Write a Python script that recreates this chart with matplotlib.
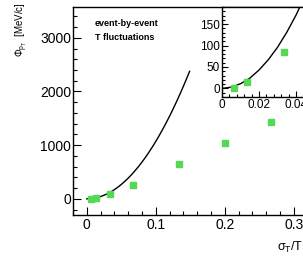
import matplotlib
matplotlib.use("Agg")
import matplotlib.pyplot as plt
from matplotlib.ticker import MultipleLocator

plt.rcParams['font.family'] = ['Liberation Sans', 'DejaVu Sans']
plt.rcParams['mathtext.fontset'] = 'custom'
plt.rcParams['mathtext.rm'] = 'Liberation Sans'
plt.rcParams['mathtext.it'] = 'Liberation Sans'

# green squares: sigma_T/T vs Phi_pT
sigma_pts = [0.0067, 0.0133, 0.0333, 0.0667, 0.1333, 0.2, 0.2667, 0.3333]
phi_pts = [2, 16, 85, 260, 650, 1045, 1435, 1830]

# black curve
curve_x = [0.0, 0.005, 0.01, 0.015, 0.02, 0.025, 0.03, 0.035, 0.04, 0.045,
           0.05, 0.055, 0.06, 0.065, 0.07, 0.075, 0.08, 0.085, 0.09, 0.095,
           0.1, 0.105, 0.11, 0.115, 0.12, 0.125, 0.13, 0.135, 0.14, 0.145, 0.149]
curve_y = [0, 3, 11, 24, 43, 67, 96, 131, 171, 217,
           268, 324, 385, 452, 525, 602, 685, 773, 867, 966,
           1070, 1180, 1295, 1415, 1540, 1672, 1808, 1950, 2097, 2250, 2376]

green = '#55d855'

fig = plt.figure(figsize=(3.03, 2.58), dpi=100)

# main panel (right part falls outside the figure, as in the reference)
ax = fig.add_axes([0.241, 0.167, 0.865, 0.806])
ax.plot(curve_x, curve_y, color='black', lw=1.0)
ax.plot(sigma_pts, phi_pts, 's', color=green, ms=4.2, mec=green)
ax.set_xlim(-0.02, 0.36)
ax.set_ylim(-300, 3575)
ax.xaxis.set_major_locator(MultipleLocator(0.1))
ax.xaxis.set_minor_locator(MultipleLocator(0.02))
ax.yaxis.set_major_locator(MultipleLocator(1000))
ax.yaxis.set_minor_locator(MultipleLocator(200))
ax.set_xticks([0, 0.1, 0.2, 0.3])
ax.set_xticklabels(['0', '0.1', '0.2', '0.3'])
ax.tick_params(which='both', direction='in', labelsize=10, width=0.8)
ax.tick_params(which='major', length=6)
ax.tick_params(which='minor', length=3)
ax.tick_params(axis='x', pad=2.5)
ax.tick_params(axis='y', pad=1.5)
for s in ax.spines.values():
    s.set_linewidth(1.0)

ax.text(95 / 303, 1 - 23 / 258, 'event-by-event', transform=fig.transFigure,
        fontsize=6.5, fontweight='bold', va='center', ha='left')
ax.text(95 / 303, 1 - 37 / 258, 'T fluctuations', transform=fig.transFigure,
        fontsize=6.5, fontweight='bold', va='center', ha='left')

fig.text(22 / 303, 1 - 2 / 258, r'$\Phi_{p_T}$  [MeV/c]', rotation=90,
         ha='center', va='top', fontsize=7)
fig.text(277 / 303, 1 - 247 / 258, r'$\sigma_T$/T', ha='left', va='center',
         fontsize=9)

# inset zoom near the origin
ins = fig.add_axes([0.733, 0.624, 0.305, 0.349])
ins.plot(curve_x, curve_y, color='black', lw=1.0)
ins.plot(sigma_pts, phi_pts, 's', color=green, ms=4.2, mec=green)
ins.set_xlim(0, 0.05)
ins.set_ylim(-20, 190)
ins.xaxis.set_major_locator(MultipleLocator(0.02))
ins.xaxis.set_minor_locator(MultipleLocator(0.004))
ins.yaxis.set_major_locator(MultipleLocator(50))
ins.yaxis.set_minor_locator(MultipleLocator(10))
ins.set_xticks([0, 0.02, 0.04])
ins.set_xticklabels(['0', '0.02', '0.04'])
ins.tick_params(which='both', direction='in', labelsize=8.5, width=0.8, pad=1.5)
ins.tick_params(which='major', length=4)
ins.tick_params(which='minor', length=2)
for s in ins.spines.values():
    s.set_linewidth(1.0)

fig.savefig('out.png', dpi=100)
